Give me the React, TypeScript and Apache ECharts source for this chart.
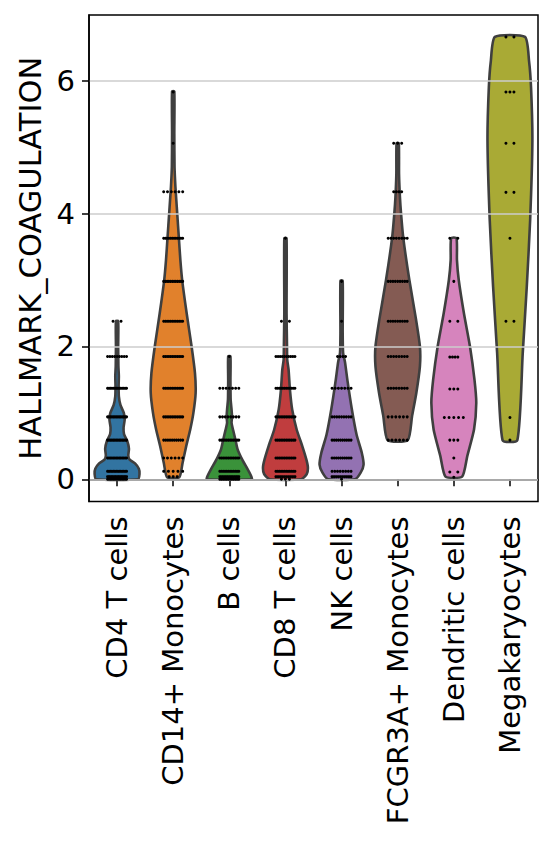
import React, { useEffect, useRef } from "react";
import * as echarts from "echarts";

const categories = [
  "CD4 T cells",
  "CD14+ Monocytes",
  "B cells",
  "CD8 T cells",
  "NK cells",
  "FCGR3A+ Monocytes",
  "Dendritic cells",
  "Megakaryocytes",
];

const colors = ["#3274a1", "#e1812c", "#3a923a", "#c03d3e", "#9372b2", "#845b53", "#d684bd", "#a9aa35"];

const yTicks = [0, 2, 4, 6];

// violin outlines: [value, relative half-width]
const cd4Profile = [[2.38, 0.05], [2.0, 0.05], [1.7, 0.06], [1.55, 0.08], [1.4, 0.07], [1.25, 0.08], [1.12, 0.15], [1.0, 0.3], [0.9, 0.34], [0.78, 0.29], [0.68, 0.31], [0.58, 0.45], [0.46, 0.53], [0.36, 0.5], [0.3, 0.55], [0.24, 0.8], [0.16, 0.97], [0.08, 1.0], [0.0, 0.93]];
const cd14Profile = [[5.84, 0.05], [5.2, 0.05], [4.7, 0.06], [4.4, 0.1], [4.2, 0.14], [4.0, 0.18], [3.65, 0.25], [3.3, 0.32], [3.0, 0.4], [2.5, 0.6], [2.0, 0.82], [1.6, 0.97], [1.3, 1.0], [1.0, 0.9], [0.75, 0.76], [0.5, 0.58], [0.25, 0.42], [0.03, 0.27]];
const bProfile = [[1.85, 0.05], [1.5, 0.05], [1.2, 0.06], [1.05, 0.1], [0.94, 0.12], [0.85, 0.1], [0.74, 0.17], [0.6, 0.27], [0.45, 0.37], [0.3, 0.57], [0.15, 0.82], [0.05, 0.97], [0.0, 1.0]];
const cd8Profile = [[3.63, 0.05], [2.5, 0.05], [2.0, 0.07], [1.8, 0.08], [1.65, 0.14], [1.35, 0.2], [1.05, 0.3], [0.75, 0.5], [0.5, 0.75], [0.3, 0.93], [0.18, 1.0], [0.08, 0.95], [0.0, 0.7]];
const nkProfile = [[2.99, 0.05], [2.2, 0.05], [1.9, 0.07], [1.77, 0.15], [1.47, 0.27], [1.07, 0.45], [0.67, 0.67], [0.4, 0.9], [0.22, 0.98], [0.1, 0.85], [0.0, 0.6]];
const fcgrProfile = [[5.06, 0.05], [4.6, 0.06], [4.25, 0.1], [4.0, 0.15], [3.63, 0.25], [3.0, 0.52], [2.4, 0.82], [2.0, 0.99], [1.7, 0.99], [1.3, 0.83], [0.95, 0.64], [0.59, 0.45]];
const dcProfile = [[3.63, 0.12], [3.3, 0.14], [3.0, 0.22], [2.5, 0.45], [2.0, 0.72], [1.5, 0.92], [1.15, 1.0], [0.75, 0.9], [0.35, 0.6], [0.04, 0.37]];
const megaProfile = [[6.66, 0.67], [6.3, 0.85], [5.9, 0.94], [5.1, 1.0], [3.9, 0.9], [2.9, 0.75], [1.9, 0.57], [0.59, 0.33]];

// cell values: [value, number of cells]
const cd4Points = [[0, 14], [0.04, 14], [0.12, 14], [0.32, 14], [0.59, 14], [0.94, 14], [1.37, 14], [1.85, 9], [2.38, 2]];
const cd14Points = [[0.04, 3], [0.12, 5], [0.32, 6], [0.59, 10], [0.94, 12], [1.37, 12], [1.85, 12], [2.38, 12], [2.98, 12], [3.63, 12], [4.33, 6], [5.06, 1], [5.83, 1]];
const bPoints = [[0, 12], [0.04, 12], [0.12, 12], [0.32, 12], [0.59, 12], [0.94, 8], [1.37, 7], [1.85, 1]];
const cd8Points = [[0, 3], [0.04, 10], [0.12, 12], [0.32, 12], [0.59, 12], [0.94, 12], [1.37, 12], [1.85, 10], [2.38, 2], [3.63, 1]];
const nkPoints = [[0, 1], [0.04, 10], [0.12, 8], [0.32, 10], [0.59, 10], [0.94, 9], [1.37, 7], [1.85, 4], [2.38, 1], [2.98, 1]];
const fcgrPoints = [[0.59, 6], [0.94, 6], [1.37, 8], [1.85, 8], [2.38, 9], [2.98, 9], [3.63, 8], [4.33, 4], [5.06, 3]];
const dcPoints = [[0.03, 1], [0.11, 2], [0.32, 1], [0.59, 3], [0.93, 5], [1.36, 3], [1.84, 4], [2.38, 2], [2.98, 1], [3.63, 2]];
const megaPoints = [[0.59, 1], [0.93, 1], [2.38, 2], [3.63, 1], [4.32, 2], [5.06, 2], [5.83, 3], [6.66, 2]];

const profiles = [cd4Profile, cd14Profile, bProfile, cd8Profile, nkProfile, fcgrProfile, dcProfile, megaProfile];
const pointSets = [cd4Points, cd14Points, bPoints, cd8Points, nkPoints, fcgrPoints, dcPoints, megaPoints];

const FONT = "DejaVu Sans";

export default function App() {
  const ref = useRef<HTMLDivElement>(null);
  useEffect(() => {
    const chart = echarts.init(ref.current!, null, { renderer: "svg" });
    chart.setOption({
      animation: false,
      backgroundColor: "#ffffff",
      grid: {
        left: 89,
        right: 16,
        top: 15,
        bottom: 361.5,
        show: true,
        borderColor: "#000",
        borderWidth: 1.5,
        backgroundColor: "transparent",
      },
      xAxis: {
        type: "category",
        data: categories,
        boundaryGap: true,
        axisLine: { show: true, lineStyle: { color: "#000", width: 1.5 } },
        axisTick: { show: true, alignWithLabel: true, length: 7, lineStyle: { color: "#000", width: 1.5 } },
        axisLabel: {
          rotate: 90,
          interval: 0,
          margin: 15,
          fontSize: 29,
          color: "#000",
          fontFamily: FONT,
        },
        splitLine: { show: false },
      },
      yAxis: {
        type: "value",
        min: -0.334,
        max: 6.99,
        z: 3,
        name: "HALLMARK_COAGULATION",
        nameLocation: "middle",
        nameGap: 43,
        nameTextStyle: { fontSize: 30.5, color: "#000", fontFamily: FONT },
        axisLine: { show: true, lineStyle: { color: "#000", width: 1.5 } },
        axisTick: { show: true, length: 7, customValues: yTicks, lineStyle: { color: "#000", width: 1.5 } },
        axisLabel: { customValues: yTicks, margin: 14, fontSize: 29, color: "#000", fontFamily: FONT },
        splitLine: { show: true, lineStyle: { color: "#cccccc", width: 1.5 } },
      },
      series: [
        {
          type: "custom",
          z: 2,
          clip: false,
          data: categories.map((_, i) => [i]),
          encode: { x: 0 },
          renderItem: (params: any, api: any) => {
            const i = api.value(0);
            const prof = profiles[i];
            const half = api.size([1, 0])[0] * 0.4;
            const left: number[][] = [];
            const right: number[][] = [];
            for (const [v, w] of prof) {
              const c = api.coord([i, v]);
              left.push([c[0] - w * half, c[1]]);
              right.push([c[0] + w * half, c[1]]);
            }
            return {
              type: "polygon",
              shape: { points: left.concat(right.reverse()), smooth: 0.2 },
              style: { fill: colors[i], stroke: "#3f3f3f", lineWidth: 2.6, lineJoin: "round" },
            };
          },
        },
        {
          type: "custom",
          z: 5,
          clip: false,
          data: categories.map((_, i) => [i]),
          encode: { x: 0 },
          renderItem: (params: any, api: any) => {
            const i = api.value(0);
            const children: any[] = [];
            for (const [v, n] of pointSets[i]) {
              const c = api.coord([i, v]);
              const spread = n >= 5 ? 9.5 : 4;
              for (let k = 0; k < n; k++) {
                const off = n === 1 ? 0 : -spread + (2 * spread * k) / (n - 1);
                children.push({
                  type: "circle",
                  shape: { cx: c[0] + off, cy: c[1], r: 1.5 },
                  style: { fill: "#000" },
                });
              }
            }
            return { type: "group", children };
          },
        },
      ],
    });
    return () => chart.dispose();
  }, []);
  return <div ref={ref} style={{ position: "fixed", left: 0, top: 0, width: 554, height: 863 }} />;
}
